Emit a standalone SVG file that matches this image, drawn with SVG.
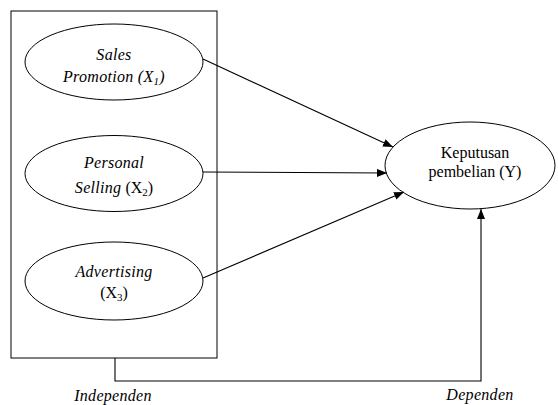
<svg xmlns="http://www.w3.org/2000/svg" width="558" height="405" viewBox="0 0 558 405">
<style>
.n{fill:#fff;stroke:#000;stroke-width:1}
.t{font-size:16px;fill:#000;text-anchor:middle}
.i{font-style:italic;letter-spacing:0.3px}
.c{fill:none;stroke:#000;stroke-width:1.1}
</style>
<defs>
<marker id="ah" markerWidth="10" markerHeight="8" refX="10" refY="4" orient="auto" markerUnits="userSpaceOnUse">
<path d="M0,0 L10,4 L0,8 Z" fill="#000"/>
</marker>
</defs>
<rect width="558" height="405" fill="#fff"/>
<rect x="11" y="11" width="206" height="347" fill="none" stroke="#000" stroke-width="1"/>
<g font-family="Liberation Serif, DejaVu Serif, serif">
<g id="x1">
<ellipse class="n" cx="114" cy="62" rx="89" ry="38"/>
<text class="t i" x="114" y="60">Sales</text>
<text class="t i" x="114" y="82">Promotion (X<tspan font-size="11" dy="3">1</tspan><tspan dy="-3">)</tspan></text>
</g>
<g id="x2">
<ellipse class="n" cx="114" cy="173.5" rx="89" ry="38"/>
<text class="t i" x="114" y="168">Personal</text>
<text class="t" x="114" y="193"><tspan class="i">Selling</tspan> (X<tspan font-size="11" dy="3">2</tspan><tspan dy="-3">)</tspan></text>
</g>
<g id="x3">
<ellipse class="n" cx="114" cy="281" rx="89" ry="39"/>
<text class="t i" x="114" y="277">Advertising</text>
<text class="t" x="114" y="298">(X<tspan font-size="11" dy="3">3</tspan><tspan dy="-3">)</tspan></text>
</g>
<g id="y">
<ellipse class="n" cx="470" cy="165.5" rx="85" ry="43.5"/>
<text class="t" x="475" y="158">Keputusan</text>
<text class="t" x="475" y="177">pembelian (Y)</text>
</g>
<g id="connectors">
<line class="c" x1="203" y1="59" x2="393" y2="147" marker-end="url(#ah)"/>
<line class="c" x1="203" y1="172" x2="387" y2="173" marker-end="url(#ah)"/>
<line class="c" x1="203" y1="278" x2="404" y2="192" marker-end="url(#ah)"/>
<polyline class="c" points="115,358 115,381 481,381 481,209" marker-end="url(#ah)"/>
</g>
<g id="labels">
<text class="t i" x="113" y="401">Independen</text>
<text class="t i" x="480" y="400">Dependen</text>
</g>
</g>
</svg>
